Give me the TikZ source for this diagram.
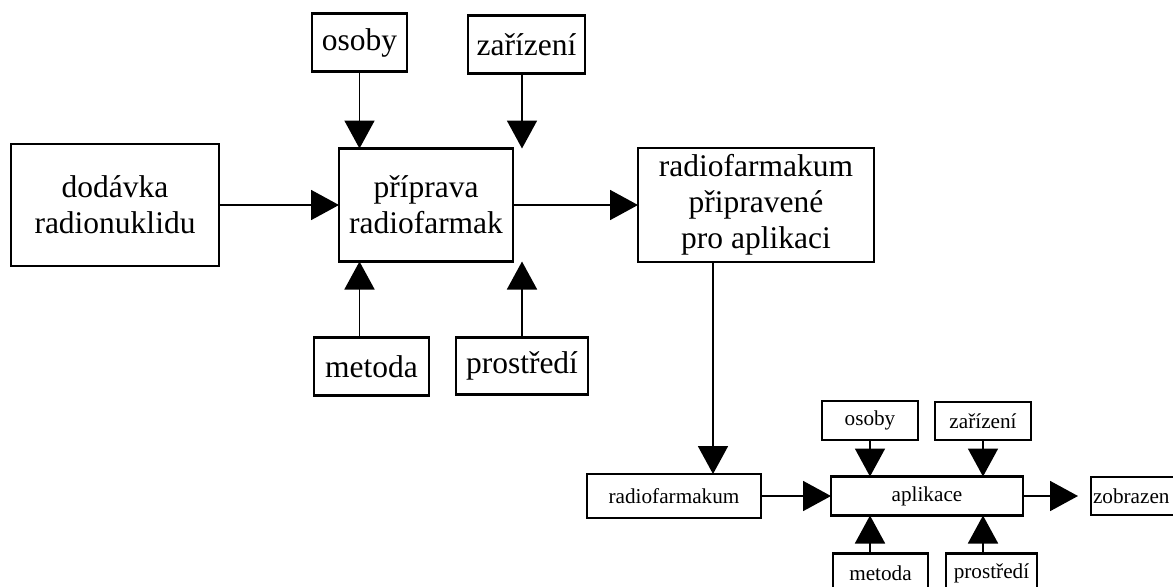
\documentclass[tikz,border=0pt]{standalone}
\usepackage{fontspec}
\setmainfont{Liberation Serif}
\usepackage{tikz}
\usetikzlibrary{arrows.meta,positioning}

\begin{document}
\begin{tikzpicture}[
        box/.style={rectangle, draw, line width=1.2pt, inner sep=0pt, outer sep=0pt, align=center, font=\fontsize{15.75pt}{18pt}\selectfont},
        sbox/.style={rectangle, draw, line width=1.2pt, inner sep=0pt, outer sep=0pt, align=center, font=\fontsize{10.6pt}{12.7pt}\selectfont},
        arrow/.style={-{Triangle[length=14pt, width=15pt]}, line width=0.9pt}
    ]
        \clip (0,0) rectangle (586.5pt,-293pt);
        \node[box, minimum width=104pt, minimum height=61pt] (dod) at (57.5pt,-102.5pt) {dodávka\\radionuklidu};
        \node[box, minimum width=87pt, minimum height=56.5pt, right=60pt of dod] (prip) {příprava\\radiofarmak};
        \node[box, minimum width=118pt, minimum height=57pt, right=62.5pt of prip] (rp) {radiofarmakum\\připravené\\pro aplikaci};
        \node[box, minimum width=47.5pt, minimum height=29pt, above=38.5pt of prip, xshift=-33.25pt] (osoby) {osoby};
        \node[box, minimum width=58.5pt, minimum height=29pt, above=37.5pt of prip, xshift=50.25pt] (zar) {zařízení};
        \node[box, minimum width=57.5pt, minimum height=29pt, below=38pt of prip, xshift=-27.25pt] (metoda) {metoda};
        \node[box, minimum width=66pt, minimum height=28.5pt, below=38pt of prip, xshift=48pt] (prost) {prostředí};
        \coordinate[xshift=-21.5pt] (rpout) at (rp.south);
        \node[sbox, minimum width=87pt, minimum height=22pt, below=106pt of rp, xshift=-41pt] (rf) {radiofarmakum};
        \node[sbox, minimum width=96pt, minimum height=19.5pt, right=35pt of rf] (apl) {aplikace};
        \node[sbox, minimum width=48pt, minimum height=19.5pt, above=18.25pt of apl, xshift=-28.5pt] (os2) {osoby};
        \node[sbox, minimum width=48pt, minimum height=19pt, above=18.25pt of apl, xshift=28pt] (zar2) {zařízení};
        \node[sbox, minimum width=47.5pt, minimum height=19.5pt, below=19pt of apl, xshift=-23.25pt] (met2) {metoda};
        \node[sbox, minimum width=45.5pt, minimum height=19.5pt, below=19pt of apl, xshift=32.25pt] (pr2) {prostředí};
        \node[sbox, minimum height=19pt, text width=41pt, inner xsep=1pt, align=left, right=34pt of apl] (zob) {zobrazen};
        \draw[arrow] (dod) -- (prip);
        \draw[arrow] (prip) -- (rp);
        \draw[arrow] (osoby) -- (osoby |- prip.north);
        \draw[arrow] (zar.south -| prost) -- (prost |- prip.north);
        \draw[arrow] (metoda.north -| osoby) -- (osoby |- prip.south);
        \draw[arrow] (prost) -- (prost |- prip.south);
        \draw[arrow] (rpout) -- (rpout |- rf.north);
        \draw[arrow] (rf) -- (apl);
        \draw[arrow] (apl) -- ([xshift=-6.5pt]zob.west);
        \draw[arrow] (os2) -- (os2 |- apl.north);
        \draw[arrow] (zar2) -- (zar2 |- apl.north);
        \draw[arrow] (met2.north -| os2) -- (os2 |- apl.south);
        \draw[arrow] (pr2.north -| zar2) -- (zar2 |- apl.south);
    \end{tikzpicture}
\end{document}
